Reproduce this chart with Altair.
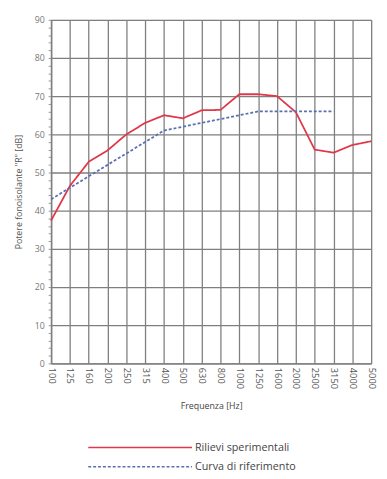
import altair as alt
import pandas as pd

freqs = ["100", "125", "160", "200", "250", "315", "400", "500", "630", "800",
         "1000", "1250", "1600", "2000", "2500", "3150", "4000", "5000"]
measured = [37.4, 46.5, 52.8, 55.8, 60.0, 63.0, 65.0, 64.2, 66.3, 66.4,
            70.5, 70.5, 70.0, 65.8, 56.0, 55.2, 57.2, 58.2]
reference_freqs = freqs[:16]
reference = [43, 46, 49, 52, 55, 58, 61, 62, 63, 64, 65, 66, 66, 66, 66, 66]

series_names = ["Rilievi sperimentali", "Curva di riferimento"]
series_colors = ["#e0384a", "#5a6fb0"]

rows = [{"f": f, "v": v, "s": series_names[0], "o": i} for i, (f, v) in enumerate(zip(freqs, measured))]
rows += [{"f": f, "v": v, "s": series_names[1], "o": i} for i, (f, v) in enumerate(zip(reference_freqs, reference))]
df = pd.DataFrame(rows)

FONT = "Open Sans"
GRID = "#7f7f7f"

chart = alt.Chart(df).mark_line(strokeWidth=1.8).encode(
    x=alt.X("f:N", sort=freqs, scale=alt.Scale(domain=freqs, type="point", padding=0),
            axis=alt.Axis(title="Frequenza [Hz]", labelAngle=90, labelAlign="left",
                          labelBaseline="middle", labelPadding=4, tickSize=0,
                          grid=True, gridColor=GRID, gridWidth=1.3,
                          domainColor=GRID, domainWidth=1.5,
                          labelColor="#555", labelFontSize=9.5, labelFont=FONT,
                          titleFont=FONT, titleFontSize=9, titleFontWeight="normal",
                          titleColor="#444", titlePadding=13)),
    y=alt.Y("v:Q", scale=alt.Scale(domain=[0, 90], nice=False, zero=True),
            axis=alt.Axis(title='Potere fonoisolante "R" [dB]',
                          values=list(range(0, 91, 2)),
                          labelExpr="datum.value % 10 === 0 ? datum.label : ''",
                          gridOpacity=alt.condition("datum.value % 10 === 0", alt.value(1), alt.value(0)),
                          gridColor=GRID, gridWidth=1.3,
                          tickSize=3, tickColor=GRID, tickWidth=0.8,
                          domainColor=GRID, domainWidth=1.5,
                          labelColor="#777", labelFontSize=9, labelFont=FONT,
                          labelPadding=4,
                          titleFont=FONT, titleFontSize=9, titleFontWeight="normal",
                          titleColor="#555", titlePadding=11)),
    color=alt.Color("s:N", scale=alt.Scale(domain=series_names, range=series_colors),
                    legend=alt.Legend(title=None, orient="none", legendX=80, legendY=426,
                                      symbolType="M-5.3,0H5.3", symbolSize=400,
                                      symbolStrokeWidth=1.6, labelOffset=45,
                                      labelFont=FONT, labelFontSize=11, labelColor="#444",
                                      rowPadding=3.5, padding=0)),
    strokeDash=alt.StrokeDash("s:N", scale=alt.Scale(domain=series_names, range=[[1, 0], [3, 2]]),
                              legend=None),
    order="o:Q",
).properties(
    width=327, height=351,
    autosize=alt.AutoSizeParams(type="none"),
    padding={"left": 44, "top": 7, "right": 8, "bottom": 111},
).configure_view(stroke=None).configure(background="white")

chart.save("out.html", embed_options={"renderer": "svg", "actions": False})
